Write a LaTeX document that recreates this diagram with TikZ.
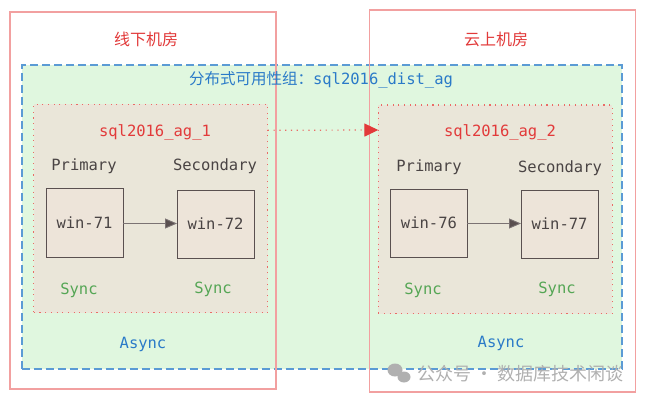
\documentclass[tikz,border=0pt]{standalone}
\usepackage{fontspec}
\setmonofont{DejaVu Sans Mono}
\newfontfamily\cjk{Noto Sans CJK SC}
\usetikzlibrary{arrows.meta}
\definecolor{roomline}{HTML}{F2A0A0}
\definecolor{roomtext}{HTML}{E23A3A}
\definecolor{distline}{HTML}{5B9BD5}
\definecolor{disttext}{HTML}{2A7AC8}
\definecolor{distfill}{HTML}{E0F7DF}
\definecolor{agfill}{HTML}{EAE6D9}
\definecolor{agline}{HTML}{EA6B66}
\definecolor{srvfill}{HTML}{EDE4D9}
\definecolor{srvline}{HTML}{5A5050}
\definecolor{srvtext}{HTML}{4A4444}
\definecolor{synctext}{HTML}{55A655}
\definecolor{wmark}{HTML}{B0B0B0}
\tikzset{
  monofont/.style={font=\ttfamily\fontsize{15.5}{18}\selectfont},
  box/.style={rectangle, inner sep=0pt, outer sep=0pt, anchor=north west},
  roombox/.style={box, draw=roomline, line width=1.2pt},
  distbox/.style={box, draw=distline, fill=distfill, line width=1.6pt, dash pattern=on 8pt off 4pt},
  agbox/.style={box, draw=agline, fill=agfill, line width=1.1pt, dash pattern=on 1.1pt off 4.6pt},
  srvbox/.style={box, draw=srvline, fill=srvfill, line width=0.9pt},
  srvlabel/.style={monofont, text=srvtext},
  roomlabel/.style={font=\cjk\fontsize{16}{19}\selectfont, text=roomtext},
  aglabel/.style={monofont, text=roomtext},
  rolelabel/.style={monofont, text=srvtext},
  synclabel/.style={monofont, text=synctext},
  asynclabel/.style={monofont, text=disttext},
  replarrow/.style={draw=srvline!80, line width=0.9pt, -{Triangle[length=12pt, width=10pt, fill=srvline]}},
  distarrow/.style={draw=agline, line width=1.2pt, dash pattern=on 1.2pt off 4.6pt, -{Triangle[length=14pt, width=13pt, fill=roomtext, color=roomtext]}},
}
\begin{document}
\begin{tikzpicture}[x=1pt, y=-1pt]
\useasboundingbox (0,0) rectangle (645,401);
\fill[white] (0,0) rectangle (645,401);
% distributed AG
\node[distbox, minimum width=600pt, minimum height=304pt] (dist) at (21.7,65) {};
% rooms
\node[roombox, minimum width=266pt, minimum height=377pt] (off) at (10,12) {};
\node[roombox, minimum width=266pt, minimum height=382pt] (cloud) at (369.5,10) {};
\node[roomlabel] (offl) at (146,39) {线下机房};
\node[roomlabel] (cloudl) at (496,39) {云上机房};
\node[text=disttext] (distl) at (321,80) {{\cjk\fontsize{15.5}{18}\selectfont 分布式可用性组：}{\ttfamily\fontsize{15.5}{18}\selectfont sql2016\_dist\_ag}};
% AGs
\node[agbox, minimum width=234pt, minimum height=208.5pt] (ag1) at (33.7,104.3) {};
\node[agbox, minimum width=234pt, minimum height=208.5pt] (ag2) at (378.3,105) {};
\node[aglabel] (ag1l) at (155,132) {sql2016\_ag\_1};
\node[aglabel] (ag2l) at (500,132) {sql2016\_ag\_2};
\node[rolelabel] (p1) at (84,166) {Primary};
\node[rolelabel] (s1) at (215,166) {Secondary};
\node[rolelabel] (p2) at (429,167) {Primary};
\node[rolelabel] (s2) at (560,168) {Secondary};
% servers
\node[srvbox, minimum width=77pt, minimum height=68.5pt] (w71) at (46,188.5) {};
\node[srvbox, minimum width=77pt, minimum height=68pt] (w72) at (177,190) {};
\node[srvbox, minimum width=76.5pt, minimum height=68pt] (w76) at (390.7,189) {};
\node[srvbox, minimum width=77pt, minimum height=68pt] (w77) at (521,190) {};
\node[srvlabel] (t71) at (w71.center) {win-71};
\node[srvlabel] (t72) at (w72.center) {win-72};
\node[srvlabel] (t76) at (w76.center) {win-76};
\node[srvlabel] (t77) at (w77.center) {win-77};
\draw[replarrow] (w71.east |- 0,223.5) -- (w72.west |- 0,223.5);
\draw[replarrow] (w76.east |- 0,223.5) -- (w77.west |- 0,223.5);
\node[synclabel] (sy1) at (79,290) {Sync};
\node[synclabel] (sy2) at (213,289) {Sync};
\node[synclabel] (sy3) at (423,290) {Sync};
\node[synclabel] (sy4) at (557,289) {Sync};
\node[asynclabel] (as1) at (143,344) {Async};
\node[asynclabel] (as2) at (501,343) {Async};
% distributed link
\draw[distarrow] ([yshift=-26pt]ag1.north east) -- ([yshift=-25pt]ag2.north west);
% watermark
\fill[wmark] (395,370) ellipse (7.5pt and 6.5pt);
\fill[wmark] (404,377) ellipse (6.5pt and 5.5pt);
\node[font=\cjk\fontsize{18}{21}\selectfont, text=wmark, anchor=west] (wm) at (414,374) {公众号 · 数据库技术闲谈};
\end{tikzpicture}
\end{document}
